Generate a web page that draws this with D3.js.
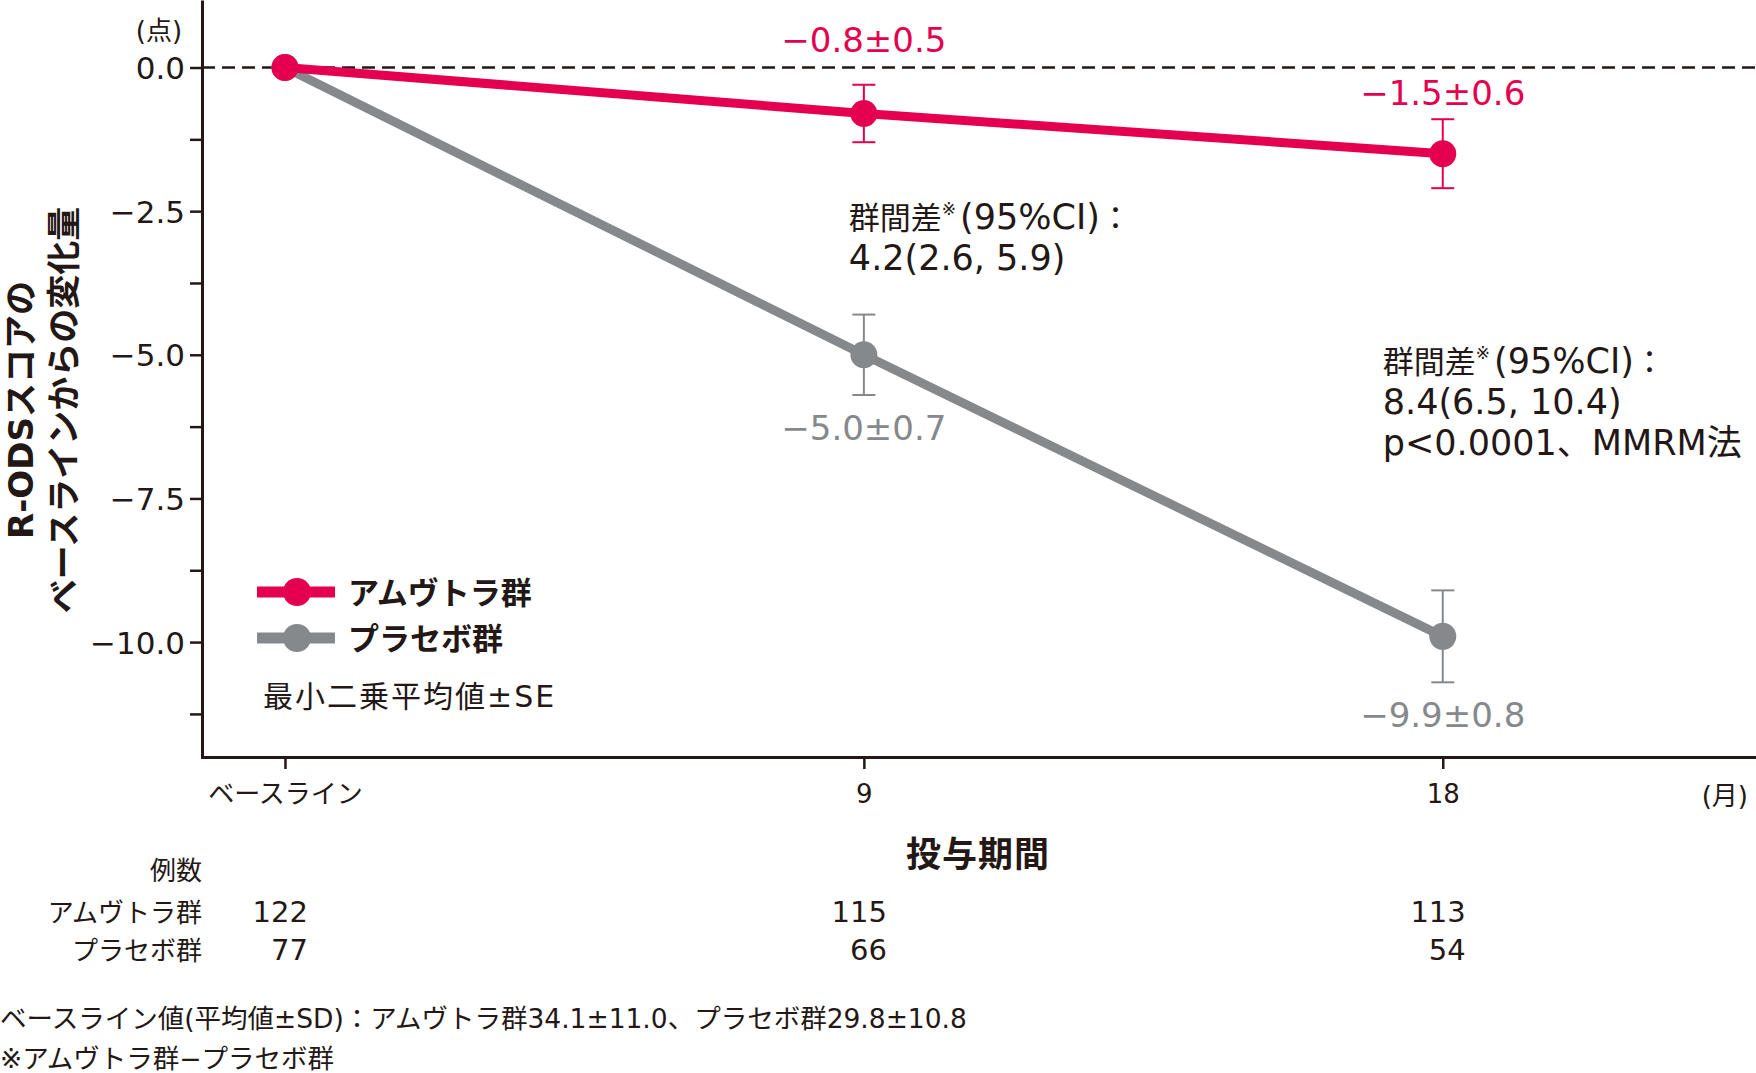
<!DOCTYPE html>
<html><head><meta charset="utf-8">
<script src="https://cdn.jsdelivr.net/npm/d3@7"></script>
<style>
html,body{margin:0;padding:0;background:#fff;}
svg{display:block;}
</style></head>
<body>
<svg id="chart" width="1756" height="1073"></svg>
<script>
// ---------------- data ----------------
const months = [0, 9, 18];
const xTickLabels = ["ベースライン", "9", "18"];
const seriesNames = ["アムヴトラ群", "プラセボ群"];
const amvuttraMean = [0, -0.8, -1.5];
const amvuttraSE = [0, 0.5, 0.6];
const placeboMean = [0, -5.0, -9.9];
const placeboSE = [0, 0.7, 0.8];
const yMajorTicks = [0, -2.5, -5, -7.5, -10];
const yMinorTicks = [-1.25, -3.75, -6.25, -8.75, -11.25];
const nAmvuttra = [122, 115, 113];
const nPlacebo = [77, 66, 54];
const yTitleLines = ["R-ODSスコアの", "ベースラインからの変化量"];
const xTitle = "投与期間";
const diffNote9 = ["4.2(2.6, 5.9)"];
const diffNote18 = ["8.4(6.5, 10.4)", "p<0.0001、MMRM法"];
const footnotes = ["ベースライン値(平均値±SD)：アムヴトラ群34.1±11.0、プラセボ群29.8±10.8", "※アムヴトラ群−プラセボ群"];

// ---------------- style ----------------
const RED = "#e4004f", GRAY = "#85898c", INK = "#231815";
const NUM = "'DejaVu Sans','Noto Sans CJK JP',sans-serif";
const JP = "'Noto Sans CJK JP',sans-serif";

const svg = d3.select("#chart");
const x = d3.scaleLinear().domain([-1.29, 22.87]).range([202, 1756]);
const y = d3.scaleLinear().domain([-12, 1.175]).range([757, 0]);
const fmt = d3.format(".1f");

// zero reference line
svg.append("line")
  .attr("x1", x.range()[0]).attr("x2", x.range()[1])
  .attr("y1", y(0)).attr("y2", y(0))
  .attr("stroke", INK).attr("stroke-width", 2.5).attr("stroke-dasharray", "13,7");

// y axis
const yAxis = d3.axisLeft(y)
  .tickValues([...yMajorTicks, ...yMinorTicks])
  .tickSize(12).tickSizeOuter(0).tickPadding(5)
  .tickFormat(d => yMajorTicks.includes(d) ? fmt(d) : "");
const gy = svg.append("g").attr("transform", `translate(${x.range()[0]},0)`).call(yAxis);
gy.select(".domain").attr("stroke", INK).attr("stroke-width", 3);
gy.selectAll(".tick line").attr("stroke", INK).attr("stroke-width", 2.5);
gy.selectAll(".tick text").attr("fill", INK).attr("font-family", NUM).attr("font-size", 31).attr("dy", "0.36em");

// x axis
const xAxis = d3.axisBottom(x).tickValues(months).tickSize(12).tickSizeOuter(0)
  .tickFormat((d, i) => xTickLabels[i]);
const gx = svg.append("g").attr("transform", `translate(0,${y.range()[0]})`).call(xAxis);
gx.select(".domain").attr("stroke", INK).attr("stroke-width", 3).attr("stroke-linecap", "square");
gx.selectAll(".tick line").attr("stroke", INK).attr("stroke-width", 2.5);
gx.selectAll(".tick text").attr("fill", INK).attr("font-family", NUM).attr("font-size", 26)
  .attr("y", 46).attr("dy", 0);

// unit labels
svg.append("text").attr("x", 159).attr("y", 40).attr("text-anchor", "middle")
  .attr("font-family", NUM).attr("font-size", 26).attr("fill", INK).text("(点)");
svg.append("text").attr("x", 1748).attr("y", 805).attr("text-anchor", "end")
  .attr("font-family", NUM).attr("font-size", 26).attr("fill", INK).text("(月)");

// axis titles
yTitleLines.forEach((t, i) => {
  svg.append("text")
    .attr("transform", `translate(${[21, 61][i]},410) rotate(-90)`)
    .attr("text-anchor", "middle").attr("dominant-baseline", "central")
    .attr("font-family", i === 0 ? NUM : JP).attr("font-weight", 700)
    .attr("font-size", 34).attr("fill", INK).text(t);
});
svg.append("text").attr("x", 978).attr("y", 867).attr("text-anchor", "middle")
  .attr("font-family", JP).attr("font-weight", 700).attr("font-size", 35).attr("fill", INK)
  .attr("letter-spacing", 1).text(xTitle);

// series
const series = [
  {name: seriesNames[1], mean: placeboMean, se: placeboSE, color: GRAY, below: true},
  {name: seriesNames[0], mean: amvuttraMean, se: amvuttraSE, color: RED, below: false}
];
const line = d3.line().x(d => x(d.m)).y(d => y(d.v));
series.forEach(s => {
  const pts = months.map((m, i) => ({m, v: s.mean[i], se: s.se[i]}));
  const g = svg.append("g");
  g.append("path").datum(pts).attr("d", line).attr("fill", "none")
    .attr("stroke", s.color).attr("stroke-width", 9);
  const eb = pts.filter(p => p.se > 0);
  g.selectAll(".eb").data(eb).join("line")
    .attr("x1", p => x(p.m)).attr("x2", p => x(p.m))
    .attr("y1", p => y(p.v + p.se)).attr("y2", p => y(p.v - p.se))
    .attr("stroke", s.color).attr("stroke-width", 2);
  [1, -1].forEach(sign => {
    g.selectAll(null).data(eb).join("line")
      .attr("x1", p => x(p.m) - 11.5).attr("x2", p => x(p.m) + 11.5)
      .attr("y1", p => y(p.v + sign * p.se)).attr("y2", p => y(p.v + sign * p.se))
      .attr("stroke", s.color).attr("stroke-width", 2);
  });
  g.selectAll("circle").data(pts).join("circle")
    .attr("cx", p => x(p.m)).attr("cy", p => y(p.v)).attr("r", 13.5).attr("fill", s.color);
  g.selectAll("text").data(eb).join("text")
    .attr("x", p => x(p.m)).attr("text-anchor", "middle")
    .attr("y", p => {
      if (s.below) return y(p.v - p.se) + 45;
      let t = y(p.v + p.se) - 14;
      if (t - 25 < y(0) + 5) t = y(0) - 16;
      return t;
    })
    .attr("font-family", NUM).attr("font-size", 34).attr("fill", s.color)
    .text(p => fmt(p.v) + "±" + p.se.toFixed(1));
});

// group-difference annotations
function diffNote(x0, y0, lines) {
  const t = svg.append("text").attr("x", x0).attr("y", y0).attr("fill", INK).attr("font-family", NUM).attr("font-size", 35);
  t.append("tspan").attr("font-family", JP).attr("font-size", 31).text("群間差");
  t.append("tspan").attr("font-size", 17).attr("dy", -14).text("※");
  t.append("tspan").attr("dy", 14).attr("dx", 4).text("(95%CI)");
  t.append("tspan").attr("font-family", JP).attr("font-size", 31).text("：");
  lines.forEach((l, i) => {
    svg.append("text").attr("x", x0).attr("y", y0 + 41 * (i + 1)).attr("fill", INK)
      .attr("font-family", NUM).attr("font-size", 35).text(l);
  });
}
diffNote(x(9) - 15, 229, diffNote9);
diffNote(x(18) - 60, 373, diffNote18);

// legend
const legend = svg.append("g");
[series[1], series[0]].forEach((s, i) => {
  const ly = 592 + i * 46;
  legend.append("line").attr("x1", 257).attr("x2", 335).attr("y1", ly).attr("y2", ly)
    .attr("stroke", s.color).attr("stroke-width", 11);
  legend.append("circle").attr("cx", 297).attr("cy", ly).attr("r", 14).attr("fill", s.color);
  legend.append("text").attr("x", 348).attr("y", ly + 12).attr("font-family", JP)
    .attr("font-weight", 700).attr("font-size", 31).attr("fill", INK).text(s.name);
});
legend.append("text").attr("x", 263).attr("y", 707).attr("font-family", NUM)
  .attr("font-size", 30).attr("letter-spacing", 2).attr("fill", INK).text("最小二乗平均値±SE");

// number at risk table
const tbl = svg.append("g").attr("fill", INK);
tbl.append("text").attr("x", 202).attr("y", 880).attr("text-anchor", "end")
  .attr("font-family", JP).attr("font-size", 26).text("例数");
[[seriesNames[0], nAmvuttra, 922], [seriesNames[1], nPlacebo, 960]].forEach(([nm, arr, ty]) => {
  tbl.append("text").attr("x", 202).attr("y", ty).attr("text-anchor", "end")
    .attr("font-family", JP).attr("font-size", 26).text(nm);
  tbl.selectAll(null).data(arr).join("text")
    .attr("x", (d, i) => x(months[i]) + 23).attr("y", ty).attr("text-anchor", "end")
    .attr("font-family", NUM).attr("font-size", 29).text(d => d);
});

// footnotes
footnotes.forEach((f, i) => {
  svg.append("text").attr("x", 0).attr("y", 1028 + 40 * i).attr("fill", INK)
    .attr("font-family", NUM).attr("font-size", 26.5).text(f);
});
</script>
</body></html>
